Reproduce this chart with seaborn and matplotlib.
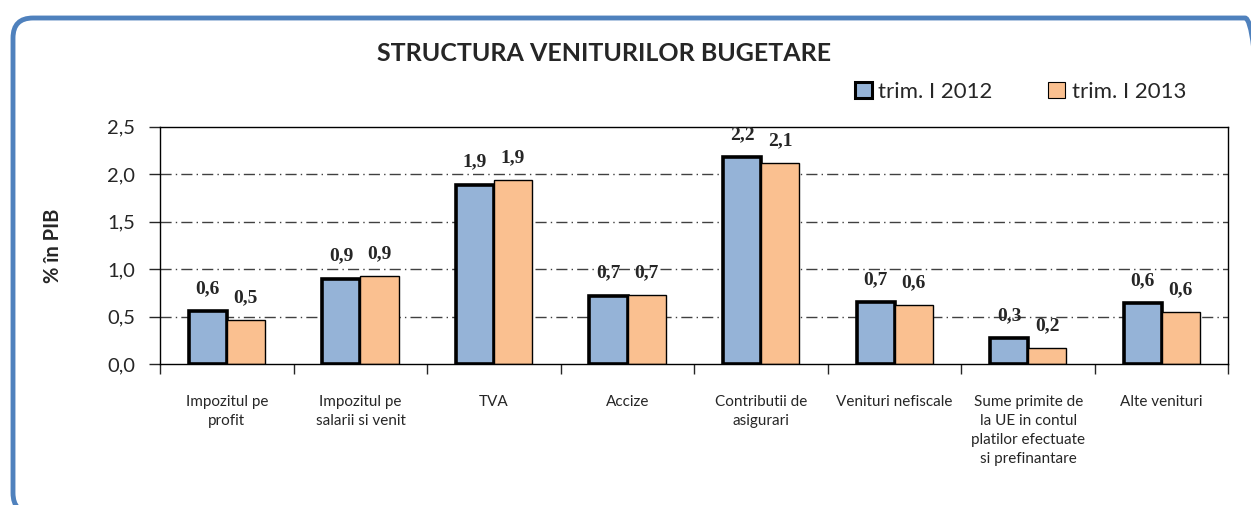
import matplotlib
matplotlib.use("Agg")
import matplotlib.pyplot as plt
from matplotlib.patches import FancyBboxPatch, Patch
from matplotlib.transforms import IdentityTransform
from matplotlib.ticker import FuncFormatter, FixedLocator
import seaborn as sb
import pandas as pd

categories = [
    "Impozitul pe\nprofit",
    "Impozitul pe\nsalarii si venit",
    "TVA",
    "Accize",
    "Contributii de\nasigurari",
    "Venituri nefiscale",
    "Sume primite de\nla UE in contul\nplatilor efectuate\nsi prefinantare",
    "Alte venituri",
]
series_names = ["trim. I 2012", "trim. I 2013"]
values_2012 = [0.56, 0.90, 1.89, 0.72, 2.18, 0.65, 0.27, 0.64]
values_2013 = [0.46, 0.93, 1.94, 0.73, 2.12, 0.62, 0.17, 0.55]
labels_2012 = ["0,6", "0,9", "1,9", "0,7", "2,2", "0,7", "0,3", "0,6"]
labels_2013 = ["0,5", "0,9", "1,9", "0,7", "2,1", "0,6", "0,2", "0,6"]

colors = ["#95B3D7", "#FAC090"]


def comma_fmt(y, pos):
    return f"{y:.1f}".replace(".", ",")


def main():
    sb.set_style("white")
    plt.rcParams["font.family"] = ["Lato", "DejaVu Sans"]

    df = pd.DataFrame({
        "categorie": categories * 2,
        "valoare": values_2012 + values_2013,
        "serie": [series_names[0]] * 8 + [series_names[1]] * 8,
    })

    fig = plt.figure(figsize=(12.51, 5.05), dpi=100)
    ax = fig.add_axes([0.128, 0.279, 0.854, 0.470])

    # rounded frame, drawn in pixel coordinates (runs off bottom/right)
    border = FancyBboxPatch(
        (13, -8), 1252, 495,
        boxstyle="round,pad=0,rounding_size=20",
        transform=IdentityTransform(), facecolor="none",
        edgecolor="#4F81BD", linewidth=3.5)
    fig.patches.append(border)

    sb.barplot(data=df, x="categorie", y="valoare", hue="serie",
               palette=colors, width=0.57, saturation=1, ax=ax,
               legend=False)

    for i, cont in enumerate(ax.containers):
        lbls = labels_2012 if i == 0 else labels_2013
        for bar, txt in zip(cont, lbls):
            bar.set_edgecolor("black")
            bar.set_linewidth(2.6 if i == 0 else 1.0)
            ax.annotate(txt, (bar.get_x() + bar.get_width() / 2,
                              bar.get_height()),
                        xytext=(0, 13), textcoords="offset points",
                        ha="center", va="baseline", fontsize=14,
                        fontweight="bold", family="Liberation Serif")

    ax.set_ylim(0, 2.5)
    ax.set_xlim(-0.5, 7.5)
    ax.yaxis.set_major_locator(FixedLocator([0, 0.5, 1, 1.5, 2, 2.5]))
    ax.yaxis.set_major_formatter(FuncFormatter(comma_fmt))
    for yv in [0.5, 1.0, 1.5, 2.0]:
        ax.axhline(yv, color="#404040", linewidth=1.0,
                   linestyle=(0, (8, 3, 1, 3)), zorder=0)

    for sp in ax.spines.values():
        sp.set_visible(True)
        sp.set_color("black")
        sp.set_linewidth(1.0)

    ax.tick_params(axis="y", which="major", direction="out", length=8,
                   width=1, labelsize=14.5, pad=10, left=True)
    ax.tick_params(axis="x", which="major", length=0, labelsize=11,
                   pad=22)
    ax.set_xticks(range(8))
    ax.set_xticklabels(categories, va="top", linespacing=1.45)
    ax.set_xticks([i + 0.5 for i in range(-1, 8)], minor=True)
    ax.tick_params(axis="x", which="minor", direction="out", length=7,
                   width=1, bottom=True)

    ax.set_xlabel("")
    ax.set_ylabel("% în PIB", fontsize=14.5, fontweight="bold", labelpad=32)

    fig.text(0.483, 0.895, "STRUCTURA VENITURILOR BUGETARE",
             ha="center", va="center", fontsize=18, fontweight="bold")

    handles = [
        Patch(facecolor=colors[0], edgecolor="black", linewidth=2.2),
        Patch(facecolor=colors[1], edgecolor="black", linewidth=0.8),
    ]
    fig.legend(handles, series_names, loc="center right",
               bbox_to_anchor=(0.964, 0.818), ncol=2, frameon=False,
               fontsize=16, handlelength=0.75, handleheight=0.75,
               handletextpad=0.3, columnspacing=2.5)

    fig.savefig("out.png", dpi=100)


if __name__ == "__main__":
    main()
